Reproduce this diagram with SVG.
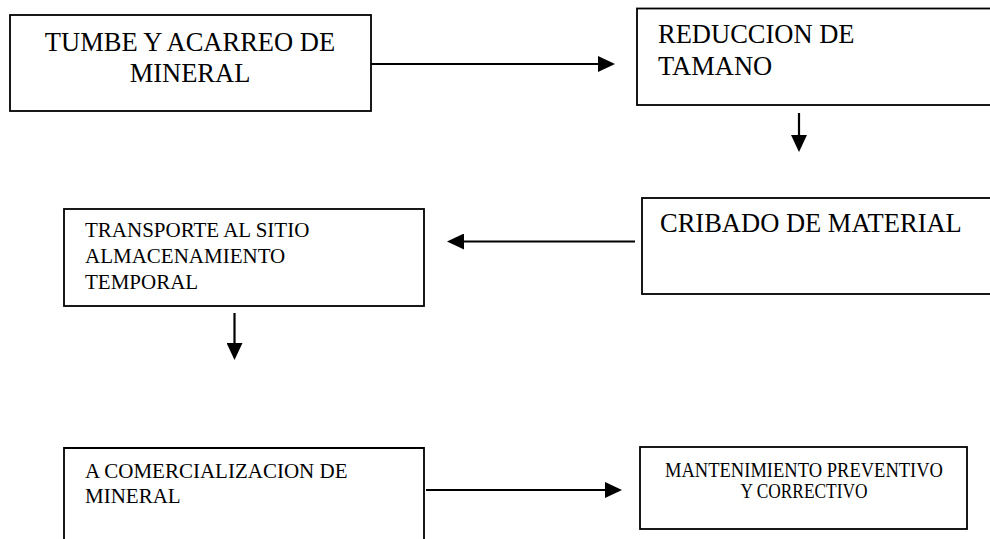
<svg xmlns="http://www.w3.org/2000/svg" width="990" height="539" viewBox="0 0 990 539">
<style>
.box{fill:#fff;stroke:#000;stroke-width:1.8}
.t{font-family:"Liberation Serif","Times New Roman",serif;fill:#000}
.big{font-size:26.5px}
.mid{font-size:21px}
.conn{stroke:#000;stroke-width:2.2;fill:none}
</style>
<defs>
<marker id="ah" markerUnits="userSpaceOnUse" markerWidth="17" markerHeight="16" refX="0" refY="8" orient="auto">
<path d="M0,0 L17,8 L0,16 z" fill="#000"/>
</marker>
</defs>
<rect width="990" height="539" fill="#fff"/>
<g id="connectors">
<line class="conn" x1="371" y1="64" x2="598" y2="64" marker-end="url(#ah)"/>
<line class="conn" x1="799" y1="113" x2="799" y2="135" marker-end="url(#ah)"/>
<line class="conn" x1="635" y1="241.5" x2="464" y2="241.5" marker-end="url(#ah)"/>
<line class="conn" x1="234.5" y1="313" x2="234.5" y2="343" marker-end="url(#ah)"/>
<line class="conn" x1="426" y1="490" x2="605" y2="490" marker-end="url(#ah)"/>
</g>
<g id="n-tumbe">
<rect class="box" x="10" y="15" width="361" height="96"/>
<text class="t big" x="190" y="50.5" text-anchor="middle">TUMBE Y ACARREO DE</text>
<text class="t big" x="190" y="81.5" text-anchor="middle">MINERAL</text>
</g>
<g id="n-reduccion">
<rect class="box" x="637" y="8.5" width="370" height="96.5"/>
<text class="t big" x="658" y="43">REDUCCION DE</text>
<text class="t big" x="658" y="75">TAMANO</text>
</g>
<g id="n-cribado">
<rect class="box" x="642" y="198" width="370" height="96"/>
<text class="t big" x="660" y="232">CRIBADO DE MATERIAL</text>
</g>
<g id="n-transporte">
<rect class="box" x="64" y="209" width="360" height="97"/>
<text class="t mid" x="85" y="237">TRANSPORTE AL SITIO</text>
<text class="t mid" x="85" y="263">ALMACENAMIENTO</text>
<text class="t mid" x="85" y="289">TEMPORAL</text>
</g>
<g id="n-comercializacion">
<path class="box" d="M64,545 V448 H424 V545"/>
<text class="t mid" x="85" y="478">A COMERCIALIZACION DE</text>
<text class="t mid" x="85" y="503">MINERAL</text>
</g>
<g id="n-mantenimiento">
<rect class="box" x="640" y="447" width="327" height="82"/>
<text class="t" font-size="20" x="804" y="477" text-anchor="middle" textLength="278" lengthAdjust="spacingAndGlyphs">MANTENIMIENTO PREVENTIVO</text>
<text class="t" font-size="20" x="804" y="498" text-anchor="middle" textLength="127" lengthAdjust="spacingAndGlyphs">Y CORRECTIVO</text>
</g>
</svg>
